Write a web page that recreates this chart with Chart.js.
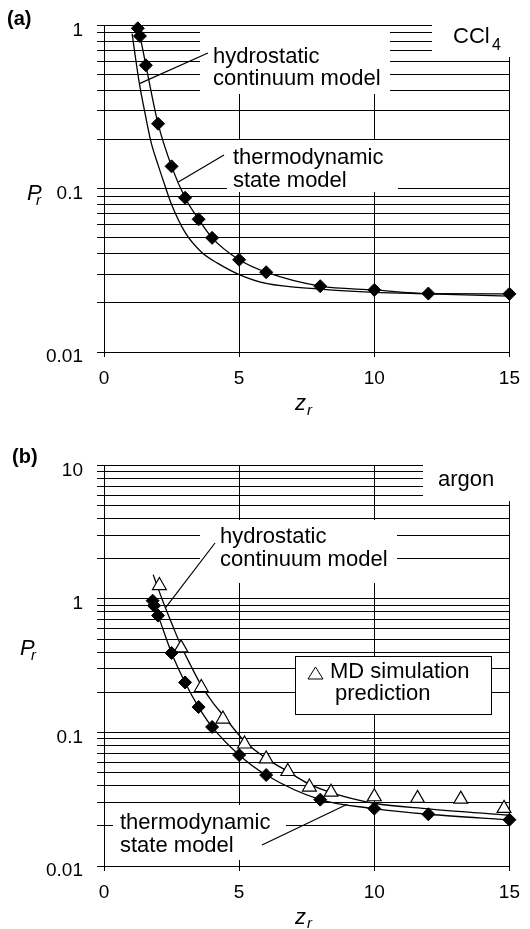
<!DOCTYPE html>
<html>
<head>
<meta charset="utf-8">
<script src="https://cdn.jsdelivr.net/npm/chart.js@4.4.1/dist/chart.umd.min.js"></script>
<style>
  html, body { margin: 0; padding: 0; background: #fff; }
  #wrap { position: relative; width: 530px; height: 929px; overflow: hidden; }
  canvas { position: absolute; left: 0; }
  #chartA { top: 0; }
  #chartB { top: 440px; }
</style>
</head>
<body>
<div id="wrap">
  <canvas id="chartA" width="530" height="440"></canvas>
  <canvas id="chartB" width="530" height="489"></canvas>
</div>
<script>
// (a) CCl4 - thermodynamic state model (diamonds + line)
const ccl4ThermoZ = [1.25, 1.33, 1.55, 2, 2.5, 3, 3.5, 4, 5, 6, 8, 10, 12, 15];
const ccl4ThermoP = [0.96, 0.86, 0.57, 0.25, 0.137, 0.088, 0.065, 0.05, 0.0367, 0.0308, 0.0253, 0.024, 0.0228, 0.0227];
// (a) CCl4 - hydrostatic continuum model
const ccl4HydroZ = [1.04, 1.15, 1.3, 1.5, 1.75, 2, 2.25, 2.5, 3, 3.6, 4.2, 5, 6, 8, 10, 12, 15];
const ccl4HydroP = [0.89, 0.66, 0.45, 0.3, 0.19, 0.14, 0.105, 0.08, 0.054, 0.041, 0.035, 0.0298, 0.0263, 0.0243, 0.0232, 0.0227, 0.022];

// (b) argon - thermodynamic state model
const argonThermoZ = [1.8, 1.85, 2, 2.5, 3, 3.5, 4, 5, 6, 8, 10, 12, 15];
const argonThermoP = [0.97, 0.89, 0.75, 0.394, 0.237, 0.155, 0.11, 0.0678, 0.048, 0.0314, 0.0269, 0.0244, 0.0222];
// (b) argon - hydrostatic continuum model
const argonHydroZ = [1.82, 2, 2.28, 2.5, 2.82, 3.2, 3.6, 4, 4.4, 5.2, 6, 6.8, 7.6, 8.4, 10, 12, 15];
const argonHydroP = [1.52, 1.2, 0.85, 0.66, 0.46, 0.32, 0.225, 0.17, 0.135, 0.086, 0.064, 0.051, 0.041, 0.0355, 0.0295, 0.0268, 0.024];
// (b) argon - MD simulation prediction
const argonMdZ = [2.05, 2.85, 3.6, 4.4, 5.2, 6, 6.8, 7.6, 8.4, 10, 11.6, 13.2, 14.8];
const argonMdP = [1.26, 0.43, 0.217, 0.126, 0.082, 0.0634, 0.051, 0.039, 0.0357, 0.033, 0.0321, 0.0317, 0.027];

// axis ticks
const xTicks = [0, 5, 10, 15];
const yLabelsA = ['0.01', '0.1', '1'];
const yLabelsB = ['0.01', '0.1', '1', '10'];

const FONT = "'Liberation Sans', Arial, Helvetica, sans-serif";
const B0 = 440; // top of lower canvas on the page

const pts = (xs, ys) => xs.map((x, i) => ({ x: x, y: ys[i] }));

// grid lines at 1..9 of each decade
function logGrid(labels) {
  const out = [];
  const decades = labels.map(Number);
  for (let d = 0; d < decades.length - 1; d++) {
    for (let k = 1; k < 10; k++) out.push(+(decades[d] * k).toPrecision(6));
  }
  out.push(decades[decades.length - 1]);
  return out;
}

function makeOptions(labels, areaTop, areaBottom, canvasH) {
  return {
    responsive: false,
    animation: false,
    events: [],
    layout: { padding: { left: 0, right: 13, top: areaTop, bottom: 0 } },
    plugins: { legend: { display: false }, tooltip: { enabled: false } },
    scales: {
      x: {
        type: 'linear',
        min: xTicks[0],
        max: xTicks[xTicks.length - 1],
        afterBuildTicks: (s) => { s.ticks = xTicks.map((v) => ({ value: v })); },
        afterFit: (s) => { s.height = canvasH - areaBottom; },
        ticks: {
          color: '#000',
          font: { family: FONT, size: 19 },
          padding: 10,
          maxRotation: 0,
          autoSkip: false,
          callback: (v) => String(v),
        },
        grid: { color: '#000', lineWidth: 1, tickLength: 5 },
        border: { color: '#000', width: 1 },
      },
      y: {
        type: 'logarithmic',
        min: Number(labels[0]),
        max: Number(labels[labels.length - 1]),
        afterBuildTicks: (s) => { s.ticks = logGrid(labels).map((v) => ({ value: v })); },
        afterFit: (s) => { s.width = 104; },
        ticks: {
          color: '#000',
          font: { family: FONT, size: 19 },
          padding: 14,
          labelOffset: 5,
          autoSkip: false,
          callback: (v) => {
            const lab = labels.find((l) => Math.abs(Number(l) - v) < v * 1e-6);
            return lab || '';
          },
        },
        grid: { color: '#000', lineWidth: 1, tickLength: 7 },
        border: { color: '#000', width: 1 },
      },
    },
  };
}

// white text boxes, labels and leader lines
const notesPlugin = {
  id: 'notes',
  beforeDatasetsDraw(chart, args, opts) {
    const ctx = chart.ctx;
    const xs = chart.scales.x;
    const ys = chart.scales.y;
    ctx.save();
    opts.boxes.forEach((b) => {
      ctx.fillStyle = '#fff';
      ctx.fillRect(b.x, b.y, b.w, b.h);
      if (b.stroke) {
        ctx.strokeStyle = '#000';
        ctx.lineWidth = 1;
        ctx.strokeRect(b.x + 0.5, b.y + 0.5, b.w - 1, b.h - 1);
      }
    });
    ctx.strokeStyle = '#000';
    ctx.lineWidth = 1.2;
    opts.leaders.forEach((l) => {
      ctx.beginPath();
      ctx.moveTo(l.from[0], l.from[1]);
      ctx.lineTo(xs.getPixelForValue(l.to[0]), ys.getPixelForValue(l.to[1]));
      ctx.stroke();
    });
    (opts.symbols || []).forEach((t) => {
      ctx.beginPath();
      ctx.moveTo(t.x, t.y - t.h / 2);
      ctx.lineTo(t.x + t.w / 2, t.y + t.h / 2);
      ctx.lineTo(t.x - t.w / 2, t.y + t.h / 2);
      ctx.closePath();
      ctx.lineWidth = 1;
      ctx.stroke();
    });
    ctx.fillStyle = '#000';
    ctx.textAlign = 'left';
    ctx.textBaseline = 'alphabetic';
    opts.texts.forEach((t) => {
      ctx.font = t.font;
      ctx.fillText(t.text, t.x, t.y);
    });
    ctx.restore();
  },
};

const NOTE = '22px ' + FONT;
const IT = 'italic 22px ' + FONT;
const SUB = 'italic 15px ' + FONT;
const BOLD = 'bold 20px ' + FONT;

function thermoSet(xs, ys) {
  return {
    data: pts(xs, ys),
    showLine: true,
    borderColor: '#000',
    borderWidth: 1.3,
    cubicInterpolationMode: 'monotone',
    pointStyle: 'rectRot',
    pointRadius: 6.5,
    pointBackgroundColor: '#000',
    pointBorderColor: '#000',
    pointBorderWidth: 1,
    clip: false,
  };
}

function hydroSet(xs, ys) {
  return {
    data: pts(xs, ys),
    showLine: true,
    borderColor: '#000',
    borderWidth: 1.3,
    cubicInterpolationMode: 'monotone',
    pointRadius: 0,
    clip: false,
  };
}

// ---- panel (a)
const optsA = makeOptions(yLabelsA, 12, 352, 440);
optsA.plugins.notes = {
  boxes: [
    { x: 200, y: 26, w: 190, h: 68 },
    { x: 227, y: 140, w: 171, h: 52 },
    { x: 432, y: 16, w: 78, h: 41 },
  ],
  leaders: [
    { from: [208, 53], to: [1.31, 0.44] },
    { from: [224, 155], to: [2.75, 0.11] },
  ],
  texts: [
    { text: '(a)', x: 7, y: 25, font: BOLD },
    { text: 'hydrostatic', x: 213, y: 63, font: NOTE },
    { text: 'continuum model', x: 213, y: 85, font: NOTE },
    { text: 'thermodynamic', x: 233, y: 164, font: NOTE },
    { text: 'state model', x: 233, y: 187, font: NOTE },
    { text: 'CCl', x: 453, y: 43, font: NOTE },
    { text: '4', x: 492, y: 50, font: '16px ' + FONT },
    { text: 'P', x: 27, y: 200, font: IT },
    { text: 'r', x: 36, y: 205, font: SUB },
    { text: 'z', x: 295, y: 410, font: IT },
    { text: 'r', x: 307, y: 415, font: SUB },
  ],
};

new Chart(document.getElementById('chartA'), {
  type: 'scatter',
  data: {
    datasets: [
      thermoSet(ccl4ThermoZ, ccl4ThermoP),
      hydroSet(ccl4HydroZ, ccl4HydroP),
    ],
  },
  options: optsA,
  plugins: [notesPlugin],
});

// ---- panel (b)
const optsB = makeOptions(yLabelsB, 13, 426, 489);
optsB.plugins.notes = {
  boxes: [
    { x: 423, y: 462 - B0, w: 87, h: 39 },
    { x: 200, y: 520 - B0, w: 197, h: 63 },
    { x: 295, y: 656 - B0, w: 197, h: 59, stroke: true },
    { x: 113, y: 805 - B0, w: 173, h: 55 },
  ],
  leaders: [
    { from: [215, 543 - B0], to: [2.28, 0.86] },
    { from: [262, 845 - B0], to: [9.0, 0.029] },
  ],
  symbols: [{ x: 315.5, y: 673 - B0, w: 15, h: 12 }],
  texts: [
    { text: '(b)', x: 12, y: 463 - B0, font: BOLD },
    { text: 'argon', x: 438, y: 486 - B0, font: NOTE },
    { text: 'hydrostatic', x: 220, y: 543 - B0, font: NOTE },
    { text: 'continuum model', x: 220, y: 566 - B0, font: NOTE },
    { text: 'MD simulation', x: 330, y: 678 - B0, font: NOTE },
    { text: 'prediction', x: 335, y: 700 - B0, font: NOTE },
    { text: 'thermodynamic', x: 120, y: 829 - B0, font: NOTE },
    { text: 'state model', x: 120, y: 852 - B0, font: NOTE },
    { text: 'P', x: 20, y: 655 - B0, font: IT },
    { text: 'r', x: 31, y: 660 - B0, font: SUB },
    { text: 'z', x: 295, y: 924 - B0, font: IT },
    { text: 'r', x: 307, y: 928 - B0, font: SUB },
  ],
};

new Chart(document.getElementById('chartB'), {
  type: 'scatter',
  data: {
    datasets: [
      thermoSet(argonThermoZ, argonThermoP),
      {
        data: pts(argonMdZ, argonMdP),
        showLine: false,
        pointStyle: 'triangle',
        pointRadius: 8,
        pointBackgroundColor: '#fff',
        pointBorderColor: '#000',
        pointBorderWidth: 1.2,
        clip: false,
      },
      hydroSet(argonHydroZ, argonHydroP),
    ],
  },
  options: optsB,
  plugins: [notesPlugin],
});
</script>
</body>
</html>
